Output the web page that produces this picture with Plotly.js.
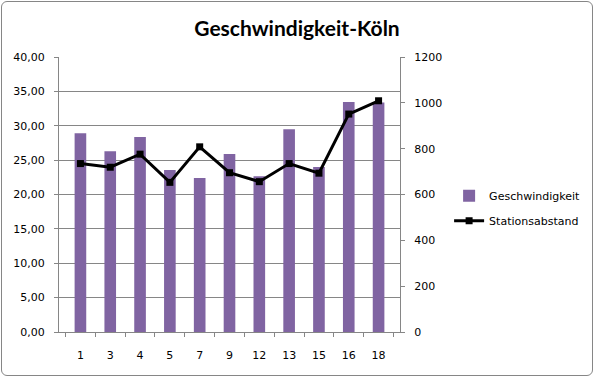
<!DOCTYPE html>
<html><head><meta charset="utf-8">
<script src="https://cdn.plot.ly/plotly-3.0.1.min.js"></script>
<style>
html,body{margin:0;padding:0;background:#fff;}
#wrap{position:relative;width:594px;height:377px;}
#chart{width:594px;height:377px;}
#frame{position:absolute;left:1px;top:1px;width:590px;height:373px;border:1px solid #868686;border-radius:6px;pointer-events:none;}
</style></head>
<body>
<div id="wrap"><div id="chart"></div><div id="frame"></div></div>
<script>
const categories = ["1","3","4","5","7","9","12","13","15","16","18"];
const geschwindigkeit = [28.9, 26.3, 28.35, 23.55, 22.4, 25.9, 22.65, 29.5, 24.0, 33.45, 33.4];
const stationsabstand = [735, 719, 776, 653, 808, 695, 656, 735, 693, 951, 1009];
const leftTicks = [0,5,10,15,20,25,30,35,40];
const rightTicks = [0,200,400,600,800,1000,1200];

const font = {family: "DejaVu Sans, Verdana, sans-serif", size: 11, color: "#000"};
const data = [
  {type:"bar", name:"Geschwindigkeit", x:categories, y:geschwindigkeit,
   marker:{color:"#8064A2"}, yaxis:"y", legendgroup:"a"},
  {type:"scatter", mode:"lines+markers", name:"Stationsabstand", x:categories, y:stationsabstand,
   line:{color:"#000", width:3}, marker:{symbol:"square", size:7, color:"#000"}, yaxis:"y2", legendgroup:"b"}
];
const layout = {
  width:594, height:377,
  margin:{l:59, r:194, t:57, b:45, autoexpand:false},
  paper_bgcolor:"rgba(0,0,0,0)", plot_bgcolor:"#fff",
  separators:",.",
  font: font,
  bargap:0.61,
  showlegend:true,
  legend:{x:1.144, y:0.45, xanchor:"left", yanchor:"middle", font:{family:"DejaVu Sans, Verdana, sans-serif", size:11},
          tracegroupgap:6, itemwidth:30, bgcolor:"rgba(0,0,0,0)"},
  title:{text:"<b>Geschwindigkeit-Köln</b>", x:0.5, xref:"container", xanchor:"center", y:0.925, yref:"container", yanchor:"middle",
         font:{family:"Lato, Open Sans, sans-serif", size:21, color:"#000"}},
  xaxis:{type:"category", tickson:"boundaries", ticks:"outside", ticklen:4, tickcolor:"#868686", automargin:false,
         showline:true, linecolor:"#868686", showgrid:false, tickfont:font, fixedrange:true, ticklabelstandoff:13},
  yaxis:{range:[0,40], tickvals:leftTicks, tickformat:".2f", showgrid:true, gridcolor:"#868686", automargin:false,
         showline:true, linecolor:"#868686", ticks:"outside", ticklen:4, tickcolor:"#868686",
         zeroline:false, tickfont:font, ticklabelstandoff:7},
  yaxis2:{range:[0,1200], tickvals:rightTicks, tickformat:"d", overlaying:"y", side:"right", automargin:false,
          showgrid:false, showline:true, linecolor:"#868686", ticks:"outside", ticklen:4, tickcolor:"#868686",
          zeroline:false, tickfont:font, ticklabelstandoff:7}
};
Plotly.newPlot("chart", data, layout, {displayModeBar:false, staticPlot:true});
</script>
</body></html>
